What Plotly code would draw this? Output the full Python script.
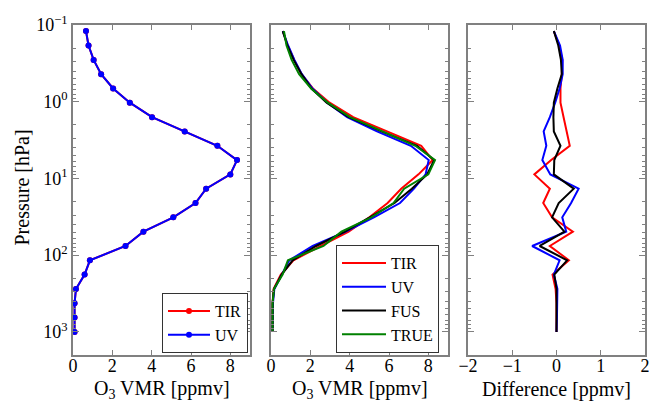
import plotly.graph_objects as go

# ---------------- data ----------------
pressure = [0.120, 0.185, 0.285, 0.437, 0.672, 1.03, 1.59, 2.44, 3.75, 5.76, 8.85,
            13.6, 20.9, 32.1, 49.4, 75.9, 116.6, 179.0, 275.5, 423.0, 651.0, 1000.0]

true_o3 = [0.66, 0.79, 1.05, 1.43, 2.04, 2.89, 4.02, 5.68, 7.34, 8.34, 8.00,
           6.77, 6.23, 5.10, 3.58, 2.67, 0.86, 0.59, 0.15, 0.08, 0.08, 0.08]

diff_tir = [-0.06, 0.06, 0.13, 0.12, 0.09, 0.09, 0.16, 0.23, 0.30, -0.12, -0.50,
            -0.15, -0.30, -0.10, 0.37, -0.15, 0.28, -0.09, -0.02, 0.00, 0.00, 0.00]
diff_uv = [-0.06, 0.08, 0.14, 0.14, 0.07, -0.03, -0.15, -0.29, -0.23, -0.32, -0.14,
           0.50, 0.33, 0.13, 0.22, -0.55, 0.07, -0.06, 0.02, 0.02, 0.01, 0.00]
diff_fus = [-0.06, 0.04, 0.10, 0.12, 0.02, -0.06, -0.07, -0.06, 0.09, -0.05, -0.06,
            0.39, 0.05, -0.10, 0.18, -0.38, 0.24, -0.05, 0.00, 0.00, 0.00, 0.00]

o3_tir = [t + d for t, d in zip(true_o3, diff_tir)]
o3_uv = [t + d for t, d in zip(true_o3, diff_uv)]
o3_fus = [t + d for t, d in zip(true_o3, diff_fus)]

y_tickvals = [0.1, 1, 10, 100, 1000]
y_ticktext = ["10<sup>−1</sup>", "10<sup>0</sup>", "10<sup>1</sup>", "10<sup>2</sup>", "10<sup>3</sup>"]
x_ticks_o3 = [0, 2, 4, 6, 8]
x_ticks_diff = [-2, -1, 0, 1, 2]
x_ticktext_diff = ["−2", "−1", "0", "1", "2"]

RED, BLUE, BLACK, GREEN = "#ff0000", "#0000ff", "#000000", "#008000"
FONT = "Liberation Serif"
FRAME = "#808080"

minor_vals = [m * 10 ** e for e in range(-1, 4) for m in range(2, 10)]

fig = go.Figure()

# left panel
fig.add_trace(go.Scatter(x=true_o3, y=pressure, mode="lines+markers", name="TIR",
                         line=dict(color=RED, width=2), marker=dict(size=6, color=RED),
                         xaxis="x", yaxis="y", legend="legend"))
fig.add_trace(go.Scatter(x=true_o3, y=pressure, mode="lines+markers", name="UV",
                         line=dict(color=BLUE, width=2), marker=dict(size=6, color=BLUE),
                         xaxis="x", yaxis="y", legend="legend"))

# middle panel
for vals, name, col in [(o3_tir, "TIR", RED), (o3_uv, "UV", BLUE),
                        (o3_fus, "FUS", BLACK), (true_o3, "TRUE", GREEN)]:
    fig.add_trace(go.Scatter(x=vals, y=pressure, mode="lines", name=name,
                             line=dict(color=col, width=2),
                             xaxis="x2", yaxis="y2", legend="legend2"))

# right panel
for vals, col in [(diff_tir, RED), (diff_uv, BLUE), (diff_fus, BLACK)]:
    fig.add_trace(go.Scatter(x=vals, y=pressure, mode="lines", showlegend=False,
                             line=dict(color=col, width=2),
                             xaxis="x3", yaxis="y3"))

MR = 4
W = 649.0 - MR
H = 330.0
doms = [(73 / W, 250 / W), (271 / W, 448 / W), (468 / W, 645 / W)]

def xax(dom, rng, tv, tt, anchor):
    return dict(domain=list(dom), range=rng, tickvals=tv, ticktext=tt, anchor=anchor,
                ticks="inside", ticklen=5, tickcolor=FRAME, showline=True, linecolor=FRAME,
                linewidth=1.5, mirror="ticks", showgrid=False, zeroline=False,
                automargin=False, ticklabelstandoff=-6, ticklabeloverflow="allow",
                tickfont=dict(family=FONT, size=18, color="black"))

def yax(anchor, labels):
    return dict(type="log", range=[3.301, -1], anchor=anchor, domain=[0, 1],
                tickvals=y_tickvals, ticktext=y_ticktext if labels else [""] * 5,
                ticks="inside", ticklen=6, tickcolor=FRAME, showline=True, linecolor=FRAME,
                linewidth=1.5, mirror="ticks", showgrid=False, zeroline=False,
                showticklabels=labels, automargin=False, ticklabeloverflow="allow",
                minor=dict(ticks="inside", ticklen=3, tickcolor=FRAME, tickvals=minor_vals,
                           showgrid=False),
                tickfont=dict(family=FONT, size=18, color="black"))

legend_style = dict(bgcolor="white", bordercolor="#333333", borderwidth=1,
                    font=dict(family=FONT, size=16, color="black"),
                    xref="paper", yref="paper", xanchor="right", yanchor="bottom")

title_font = dict(family=FONT, size=20, color="black")
ty = (355 - 389) / H
annotations = [
    dict(text="O<sub>3</sub> VMR [ppmv]", x=(doms[0][0] + doms[0][1]) / 2, y=ty),
    dict(text="O<sub>3</sub> VMR [ppmv]", x=(doms[1][0] + doms[1][1]) / 2, y=ty),
    dict(text="Difference [ppmv]", x=(doms[2][0] + doms[2][1]) / 2, y=ty),
    dict(text="Pressure [hPa]", x=21.5 / W, y=(355 - 188) / H, textangle=-90),
]
for a in annotations:
    a.update(xref="paper", yref="paper", xanchor="center", yanchor="middle",
             showarrow=False, font=title_font)

fig.update_layout(
    width=649, height=403,
    margin=dict(l=0, r=MR, t=25, b=48),
    paper_bgcolor="white", plot_bgcolor="white",
    font=dict(family=FONT, color="black"),
    xaxis=xax(doms[0], [0, 9], x_ticks_o3, [str(v) for v in x_ticks_o3], "y"),
    xaxis2=xax(doms[1], [0, 9], x_ticks_o3, [str(v) for v in x_ticks_o3], "y2"),
    xaxis3=xax(doms[2], [-2, 2], x_ticks_diff, x_ticktext_diff, "y3"),
    yaxis=yax("x", True), yaxis2=yax("x2", False), yaxis3=yax("x3", False),
    legend=dict(x=248 / W, y=2 / H, itemwidth=42, **legend_style),
    legend2=dict(x=439 / W, y=2 / H, itemwidth=44, **legend_style),
    annotations=annotations,
)

fig.write_html("out.html")
